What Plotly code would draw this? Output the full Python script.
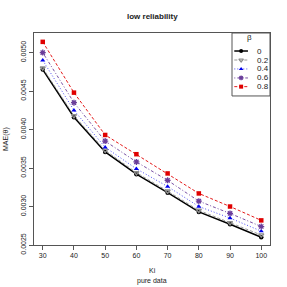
import plotly.graph_objects as go

ki = [30, 40, 50, 60, 70, 80, 90, 100]
beta_labels = ["0", "0.2", "0.4", "0.6", "0.8"]
mae_b0 = [0.00478, 0.00416, 0.00371, 0.00342, 0.00318, 0.00293, 0.00277, 0.00260]
mae_b02 = [0.00480, 0.00418, 0.00373, 0.00344, 0.00320, 0.00295, 0.00279, 0.00263]
mae_b04 = [0.00490, 0.00425, 0.00377, 0.00349, 0.00326, 0.00300, 0.00285, 0.00268]
mae_b06 = [0.00500, 0.00435, 0.00385, 0.00358, 0.00334, 0.00307, 0.00291, 0.00274]
mae_b08 = [0.00514, 0.00448, 0.00393, 0.00368, 0.00343, 0.00317, 0.00300, 0.00282]

series = [mae_b0, mae_b02, mae_b04, mae_b06, mae_b08]
colors = ["#000000", "#8c8c8c", "#0000ee", "#6a3d9a", "#e00000"]
dashes = ["solid", "3px,2px", "1px,2px", "1px,2px,3px,2px", "3px,2px"]
widths = [1.5, 0.9, 0.7, 0.9, 0.9]
symbols = ["circle", "triangle-down-open", "triangle-up", "asterisk-open", "square"]
sizes = [4.5, 4.5, 4.5, 5, 4.5]

FONT = "Liberation Sans, Arial, sans-serif"
fig = go.Figure()

for s, c, d, w, sym, sz, lab in zip(series, colors, dashes, widths, symbols, sizes, beta_labels):
    mk = dict(symbol=sym, size=sz, color=c)
    if "open" in sym:
        mk["line"] = dict(color=c, width=1.3)
    fig.add_trace(go.Scatter(x=ki, y=s, mode="lines+markers", name=lab,
                             line=dict(color=c, dash=d, width=w), marker=mk,
                             showlegend=False))

# manual legend in its own small axes
leg_y = [0.714, 0.571, 0.429, 0.286, 0.148]
for i, (c, d, w, sym, sz, lab) in enumerate(zip(colors, dashes, widths, symbols, sizes, beta_labels)):
    mk = dict(symbol=sym, size=4, color=c)
    if "open" in sym:
        mk["line"] = dict(color=c, width=1.2)
    fig.add_trace(go.Scatter(x=[0.06, 0.42], y=[leg_y[i]] * 2, mode="lines",
                             line=dict(color=c, dash=d, width=w), xaxis="x2", yaxis="y2",
                             showlegend=False, hoverinfo="skip"))
    fig.add_trace(go.Scatter(x=[0.24], y=[leg_y[i]], mode="markers", marker=mk,
                             xaxis="x2", yaxis="y2", showlegend=False, hoverinfo="skip"))
    fig.add_annotation(x=0.6, y=leg_y[i], xref="x2", yref="y2", text=lab, showarrow=False,
                       xanchor="left", yanchor="middle", font=dict(size=8, color="#222", family=FONT))
fig.add_annotation(x=0.45, y=0.93, xref="x2", yref="y2", text="β", showarrow=False,
                   xanchor="center", yanchor="middle", font=dict(size=8, color="#222", family=FONT))

axis_common = dict(showline=True, linecolor="#555", linewidth=1, mirror=True, ticks="outside",
                   ticklen=4, tickcolor="#555", showgrid=False, zeroline=False,
                   tickfont=dict(size=7, color="#222", family=FONT))

fig.update_layout(
    width=287, height=287,
    margin=dict(l=34, r=17, t=33, b=42),
    paper_bgcolor="white", plot_bgcolor="white",
    font=dict(family=FONT, color="#222"),
    xaxis=dict(range=[27.2, 102.8], tickvals=ki, **axis_common),
    yaxis=dict(range=[0.0025, 0.005255], tickvals=[0.0025, 0.0030, 0.0035, 0.0040, 0.0045, 0.0050],
               ticktext=["0.0025", "0.0030", "0.0035", "0.0040", "0.0045", "0.0050"],
               tickangle=-90, **axis_common),
    xaxis2=dict(domain=[0.839, 1.0], range=[0, 1], visible=False, anchor="y2"),
    yaxis2=dict(domain=[0.703, 1.0], range=[0, 1], visible=False, anchor="x2"),
    showlegend=False,
)

fig.add_shape(type="rect", xref="paper", yref="paper", x0=0.839, x1=1.0, y0=0.703, y1=1.0,
              line=dict(color="#555", width=1), fillcolor="rgba(0,0,0,0)")

fig.add_annotation(text="<b>low reliability</b>", xref="paper", yref="paper", x=0.5, y=1,
                   yshift=17, yanchor="middle", showarrow=False,
                   font=dict(size=8, color="#222", family=FONT))
fig.add_annotation(text="Ki", xref="paper", yref="paper", x=0.5, y=0, yshift=-25,
                   yanchor="middle", showarrow=False, font=dict(size=7, color="#222", family=FONT))
fig.add_annotation(text="pure data", xref="paper", yref="paper", x=0.5, y=0, yshift=-36,
                   yanchor="middle", showarrow=False, font=dict(size=7, color="#222", family=FONT))
fig.add_annotation(text="MAE(θ)", xref="paper", yref="paper", x=0, y=0.5, xshift=-28,
                   xanchor="center", textangle=-90, showarrow=False,
                   font=dict(size=7, color="#222", family=FONT))

fig.write_html("out.html", config={"displayModeBar": False},
               post_script="document.body.style.margin='0';document.body.style.overflow='hidden';")
